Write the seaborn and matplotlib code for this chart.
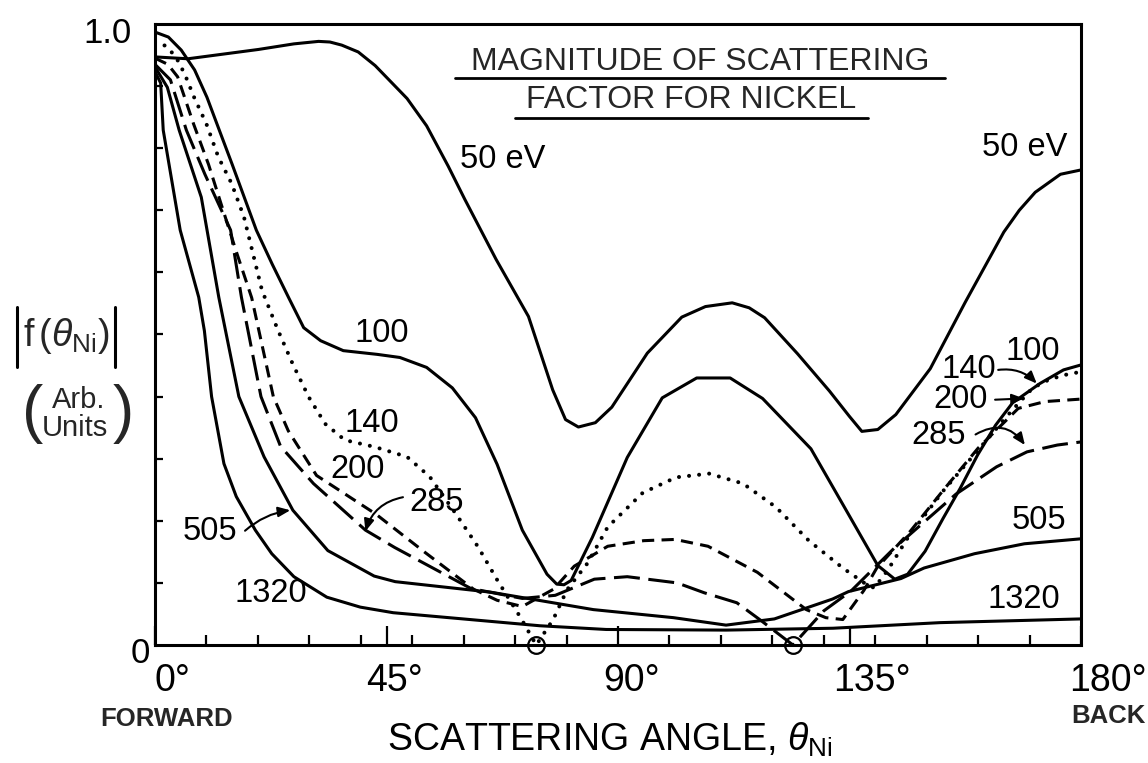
import matplotlib
matplotlib.use("Agg")
import matplotlib.pyplot as plt
from matplotlib.lines import Line2D
from matplotlib.transforms import ScaledTranslation
import seaborn as sns

# |f(theta)| of nickel versus scattering angle (degrees), one pair per energy
ANG_50 = [0, 6.4, 20.1, 27.0, 31.8, 34.0, 36.3, 39.5, 42.8, 49.0, 52.8, 57.0, 60.2, 66.3, 72.6,
          77.3, 79.8, 82.3, 85.6, 88.8, 95.7, 102.4, 107.0, 112.2, 115.5, 118.5, 124.9, 131.1,
          135.0, 137.4, 140.5, 144.0, 150.7, 157.5, 165.0, 168.0, 171.1, 176.0, 180]
VAL_50 = [0.947, 0.944, 0.959, 0.968, 0.972, 0.971, 0.966, 0.955, 0.933, 0.880, 0.836, 0.771,
          0.718, 0.621, 0.529, 0.411, 0.363, 0.351, 0.358, 0.383, 0.470, 0.528, 0.545, 0.551,
          0.543, 0.527, 0.469, 0.409, 0.368, 0.344, 0.347, 0.371, 0.445, 0.552, 0.665, 0.700,
          0.729, 0.758, 0.765]

ANG_100 = [0, 2.6, 5.1, 7.7, 10.1, 12.5, 15.0, 19.7, 22.8, 26.0, 28.9, 32.2, 36.6, 43.2, 47.6,
           52.8, 57.8, 62.3, 66.5, 71.4, 76.2, 78.1, 79.5, 80.9, 85.0, 91.8, 98.6, 105.3, 111.8,
           118.1, 127.5, 133.8, 140.5, 143.8, 146.3, 149.7, 153.2, 156.5, 159.9, 163.4, 166.7,
           172.0, 176.6, 180]
VAL_100 = [0.987, 0.979, 0.958, 0.926, 0.882, 0.829, 0.774, 0.668, 0.613, 0.559, 0.511, 0.490,
           0.474, 0.468, 0.463, 0.447, 0.414, 0.366, 0.291, 0.185, 0.114, 0.098, 0.097, 0.104,
           0.173, 0.302, 0.398, 0.430, 0.430, 0.397, 0.316, 0.225, 0.128, 0.106, 0.114, 0.151,
           0.204, 0.252, 0.306, 0.354, 0.390, 0.421, 0.443, 0.451]

ANG_140 = [0, 2.0, 4.0, 5.8, 7.6, 10.0, 12.3, 14.9, 17.3, 20.8, 23.9, 26.8, 29.9, 33.1, 36.9,
           42.7, 49.0, 53.4, 58.5, 62.8, 66.5, 71.0, 74.1, 77.4, 80.1, 84.1, 88.0, 94.8, 101.3,
           107.7, 114.3, 120.7, 127.1, 133.7, 138.2, 139.8, 142.4, 146.5, 153.2, 159.8, 166.4,
           170.4, 172.8, 176.3, 180]
VAL_140 = [0.971, 0.965, 0.948, 0.919, 0.882, 0.839, 0.786, 0.743, 0.689, 0.571, 0.507, 0.452,
           0.399, 0.356, 0.330, 0.319, 0.303, 0.271, 0.211, 0.158, 0.105, 0.045, 0.0, 0.041,
           0.089, 0.132, 0.190, 0.245, 0.270, 0.276, 0.260, 0.222, 0.168, 0.124, 0.098, 0.092,
           0.120, 0.175, 0.248, 0.312, 0.376, 0.412, 0.424, 0.434, 0.440]

ANG_200 = [0, 2.5, 4.4, 7.5, 10.4, 15.7, 18.8, 23.0, 25.9, 31.4, 42.9, 52.5, 61.9, 66.5, 71.4,
           77.5, 81.5, 88.0, 95.0, 101.1, 107.5, 117.1, 126.6, 130.4, 133.7, 137.8, 140.3,
           146.8, 153.5, 160.0, 167.8, 173.0, 180]
VAL_200 = [0.945, 0.935, 0.915, 0.839, 0.774, 0.636, 0.559, 0.400, 0.345, 0.273, 0.211, 0.149,
           0.090, 0.072, 0.062, 0.090, 0.127, 0.159, 0.168, 0.170, 0.159, 0.117, 0.057, 0.044,
           0.041, 0.088, 0.124, 0.183, 0.252, 0.317, 0.381, 0.392, 0.396]

ANG_285 = [0, 3.0, 6.1, 9.7, 14.7, 16.8, 20.6, 24.4, 30.8, 40.9, 46.6, 61.4, 71.4, 77.8, 85.4,
           91.8, 101.5, 106.8, 113.1, 117.7, 124.0, 130.0, 135.3, 143.7, 155.7, 163.6, 169.5,
           175.4, 180]
VAL_285 = [0.935, 0.910, 0.829, 0.758, 0.668, 0.560, 0.400, 0.320, 0.260, 0.185, 0.157, 0.091,
           0.075, 0.080, 0.106, 0.110, 0.100, 0.084, 0.068, 0.040, 0.0, 0.055, 0.087, 0.156,
           0.243, 0.287, 0.311, 0.322, 0.327]

ANG_505 = [0, 2.4, 4.7, 9.0, 12.4, 16.3, 21.2, 26.8, 33.6, 42.6, 46.7, 65.3, 85.2, 100.8, 111.0,
           120.4, 131.7, 134.8, 145.0, 149.5, 159.3, 169.0, 180]
VAL_505 = [0.931, 0.898, 0.829, 0.721, 0.560, 0.400, 0.303, 0.217, 0.152, 0.111, 0.102, 0.085,
           0.057, 0.044, 0.032, 0.042, 0.074, 0.086, 0.107, 0.124, 0.147, 0.163, 0.171]

ANG_1320 = [0, 1.1, 1.6, 4.9, 8.5, 9.6, 11.0, 13.4, 15.8, 19.5, 22.7, 27.0, 33.4, 39.9, 46.3,
            74.8, 87.7, 111.0, 131.8, 152.6, 180]
VAL_1320 = [0.923, 0.905, 0.829, 0.668, 0.560, 0.506, 0.400, 0.292, 0.239, 0.185, 0.147, 0.110,
            0.077, 0.061, 0.052, 0.031, 0.025, 0.024, 0.027, 0.036, 0.042]

X_TICKS = [0, 45, 90, 135, 180]
X_TICK_LABELS = ["0°", "45°", "90°", "135°", "180°"]
Y_TICKS = [0, 1]
Y_TICK_LABELS = ["0", "1.0"]

sns.set_theme(style="ticks")
plt.rcParams["font.family"] = ["Liberation Sans", "DejaVu Sans"]
plt.rcParams["mathtext.fontset"] = "custom"
plt.rcParams["mathtext.rm"] = "Liberation Sans"
plt.rcParams["mathtext.it"] = "Liberation Sans:italic"
plt.rcParams["mathtext.bf"] = "Liberation Sans:bold"

W, H = 1148, 763
fig = plt.figure(figsize=(W / 100, H / 100), dpi=100)
fig.patch.set_facecolor("white")
ax = fig.add_axes([155 / W, 1 - 645 / H, 926 / W, 621 / H])
ax.set_facecolor("white")

LW = 2.2
solid = dict(linestyle="-", solid_joinstyle="round", solid_capstyle="round")
dotted = dict(linestyle=(0, (0.01, 2.5)), dash_capstyle="round", linewidth=2.9)
short_dash = dict(linestyle=(0, (4.0, 2.4)), dash_joinstyle="round")
long_dash = dict(linestyle=(0, (8.5, 2.8)), dash_joinstyle="round")

series = [
    (ANG_50, VAL_50, solid),
    (ANG_100, VAL_100, solid),
    (ANG_140, VAL_140, dotted),
    (ANG_200, VAL_200, short_dash),
    (ANG_285, VAL_285, long_dash),
    (ANG_505, VAL_505, solid),
    (ANG_1320, VAL_1320, solid),
]
for ang, val, style in series:
    kw = dict(linewidth=LW)
    kw.update(style)
    sns.lineplot(x=ang, y=val, ax=ax, color="black", estimator=None, sort=False, **kw)

# open circles where a curve passes through zero
for ang, val in [(ANG_140, VAL_140), (ANG_285, VAL_285)]:
    zeros = [a for a, v in zip(ang, val) if v == 0.0]
    ax.plot(zeros, [0.0] * len(zeros), "o", mfc="none", mec="black", ms=12, mew=1.6,
            clip_on=False, zorder=5)

ax.set_xlim(0, 180)
ax.set_ylim(0, 1)
for s in ax.spines.values():
    s.set_visible(True)
    s.set_linewidth(2.2)
    s.set_color("black")

ax.set_xticks(X_TICKS)
ax.set_xticklabels(X_TICK_LABELS)
ax.set_xticks(list(range(10, 180, 10)), minor=True)
ax.tick_params(axis="x", which="major", direction="in", length=14, width=1.6, pad=13,
               labelsize=27, color="black", labelcolor="black")
ax.tick_params(axis="x", which="minor", direction="in", length=7, width=1.6, color="black")
ax.set_yticks(Y_TICKS)
ax.set_yticklabels(Y_TICK_LABELS)
ax.set_yticks([i / 10 for i in range(1, 10)], minor=True)
ax.tick_params(axis="y", which="major", length=0, pad=10, labelsize=25, labelcolor="black")
ax.tick_params(axis="y", which="minor", direction="in", length=6, width=1.6, color="black")

def shift(label, dx, dy):
    label.set_transform(label.get_transform() + ScaledTranslation(dx / 100, -dy / 100, fig.dpi_scale_trans))

for lab, dx in zip(ax.get_xticklabels(), [17, 8, 14, 22, 27]):
    shift(lab, dx, 0)
ylabs = ax.get_yticklabels()
shift(ylabs[0], 9, 5)
shift(ylabs[1], -9, 6)

ax.set_xlabel(r"SCATTERING ANGLE, $\theta_{\mathrm{Ni}}$", fontsize=27, color="black")
ax.xaxis.set_label_coords((610 - 155) / 926, (645 - 740) / 621)
ax.xaxis.label.set_va("center")
ax.set_ylabel("")

def fpx(x, y):
    return x / W, 1 - y / H

fig.text(*fpx(167, 719), "FORWARD", fontsize=18.5, fontweight="bold", ha="center", va="center")
fig.text(*fpx(1108, 716), "BACK", fontsize=18.5, fontweight="bold", ha="center", va="center")

# y-axis caption: |f(theta_Ni)| over (Arb. Units)
fig.text(*fpx(66, 336), r"$\mathrm{f}\,(\theta_{\mathrm{Ni}})$", fontsize=27,
         ha="center", va="center")
for xb in (17, 115):
    fig.add_artist(Line2D([xb / W, xb / W], [1 - 307 / H, 1 - 367 / H], color="black",
                          lw=2.2, solid_capstyle="round"))
fig.text(*fpx(33, 414), "(", fontsize=46, ha="center", va="center", fontweight="light")
fig.text(*fpx(123, 414), ")", fontsize=46, ha="center", va="center", fontweight="light")
fig.text(*fpx(79, 400), "Arb.", fontsize=21, ha="center", va="center")
fig.text(*fpx(75, 428), "Units", fontsize=21, ha="center", va="center")

# underlined title
fig.text(*fpx(700, 62), "MAGNITUDE OF SCATTERING", fontsize=23, ha="center", va="center")
fig.text(*fpx(691, 100), "FACTOR FOR NICKEL", fontsize=23, ha="center", va="center")
for x0, x1, y in [(455, 945, 78), (515, 868, 118)]:
    fig.add_artist(Line2D([x0 / W, x1 / W], [1 - y / H, 1 - y / H], color="black", lw=2.0))

# curve labels
label_kw = dict(fontsize=23.5, ha="center", va="center", color="black")
for txt, x, y in [("50 eV", 67.6, 0.782), ("100", 44.1, 0.501), ("140", 42.2, 0.356),
                  ("200", 39.3, 0.283), ("285", 54.7, 0.230), ("505", 10.7, 0.183),
                  ("1320", 22.5, 0.083), ("50 eV", 169.0, 0.801), ("100", 170.6, 0.473),
                  ("140", 158.2, 0.443), ("200", 156.5, 0.395), ("285", 152.4, 0.337),
                  ("505", 171.8, 0.201), ("1320", 168.9, 0.074)]:
    ax.text(x, y, txt, **label_kw)

arrow = dict(arrowstyle="-|>,head_length=0.6,head_width=0.25", color="black", lw=1.5,
             shrinkA=0, shrinkB=0)
for (x0, y0), (x1, y1), rad in [((17.5, 0.184), (26.3, 0.217), -0.15),
                                ((48.2, 0.238), (40.9, 0.183), 0.3),
                                ((163.9, 0.443), (171.4, 0.421), -0.25),
                                ((163.3, 0.395), (168.9, 0.397), 0.0),
                                ((159.5, 0.339), (169.1, 0.322), -0.45)]:
    ax.annotate("", xy=(x1, y1), xytext=(x0, y0),
                arrowprops=dict(connectionstyle=f"arc3,rad={rad}", **arrow))

fig.savefig("out.png", dpi=100, facecolor="white")
